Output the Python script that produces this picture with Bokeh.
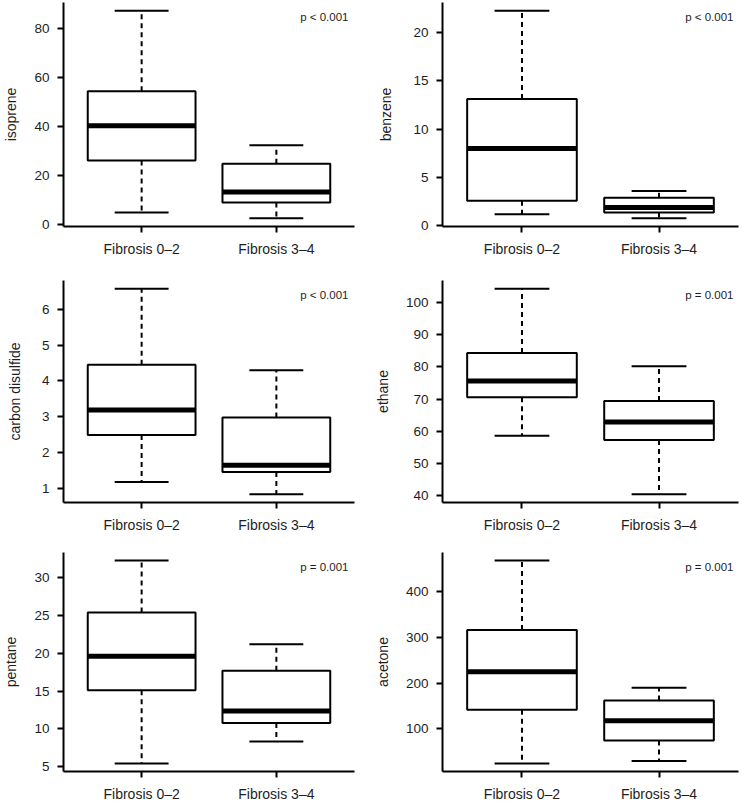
from bokeh.plotting import figure
from bokeh.models import FactorRange, Range1d, FixedTicker, Label, ColumnDataSource
from bokeh.layouts import gridplot
from bokeh.embed import file_html
from bokeh.resources import INLINE

# ---- data (lower whisker, Q1, median, Q3, upper whisker) ----
groups = ["Fibrosis 0–2", "Fibrosis 3–4"]

isoprene_f02 = [4.9, 26.2, 40.4, 54.4, 87.3]
isoprene_f34 = [2.6, 9.0, 13.3, 24.8, 32.4]
benzene_f02 = [1.2, 2.6, 8.0, 13.1, 22.2]
benzene_f34 = [0.8, 1.4, 1.9, 2.9, 3.6]
cs2_f02 = [1.17, 2.49, 3.19, 4.45, 6.58]
cs2_f34 = [0.83, 1.45, 1.64, 2.98, 4.30]
ethane_f02 = [58.6, 70.6, 75.6, 84.3, 104.3]
ethane_f34 = [40.4, 57.3, 62.9, 69.4, 80.2]
pentane_f02 = [5.4, 15.1, 19.6, 25.4, 32.3]
pentane_f34 = [8.3, 10.75, 12.35, 17.7, 21.2]
acetone_f02 = [25, 142, 225, 316, 467]
acetone_f34 = [30, 75, 118, 162, 190]

compounds = ["isoprene", "benzene", "carbon disulfide", "ethane", "pentane", "acetone"]
p_values = ["p < 0.001", "p < 0.001", "p < 0.001", "p = 0.001", "p = 0.001", "p = 0.001"]

isoprene_ticks = [0, 20, 40, 60, 80]
benzene_ticks = [0, 5, 10, 15, 20]
cs2_ticks = [1, 2, 3, 4, 5, 6]
ethane_ticks = [40, 50, 60, 70, 80, 90, 100]
pentane_ticks = [5, 10, 15, 20, 25, 30]
acetone_ticks = [100, 200, 300, 400]

FONT = "Liberation Sans"
TXT = "#1e1e1e"
PAD = 0.08


def panel(name, g1, g2, ticks, pval, width, height, left, right, top, bottom, maxdigits, pdx):
    src = ColumnDataSource(dict(
        cat=groups,
        lower=[g1[0], g2[0]], q1=[g1[1], g2[1]], med=[g1[2], g2[2]],
        q3=[g1[3], g2[3]], upper=[g1[4], g2[4]],
        cl=[(g, -0.2) for g in groups], cr=[(g, 0.2) for g in groups],
        ml=[(g, -0.4) for g in groups], mr=[(g, 0.4) for g in groups],
    ))
    lo = min(g1[0], g2[0])
    hi = max(g1[4], g2[4])
    span = hi - lo
    p = figure(width=width, height=height,
               x_range=FactorRange(factors=groups, range_padding=PAD, range_padding_units="absolute"),
               y_range=Range1d(lo - 0.04 * span, hi + 0.04 * span),
               output_backend="svg", toolbar_location=None,
               min_border_left=left, min_border_right=right,
               min_border_top=top, min_border_bottom=bottom)
    p.xgrid.visible = False
    p.ygrid.visible = False
    p.outline_line_color = None
    p.background_fill_color = "white"

    # whiskers (dashed)
    p.segment(x0="cat", y0="q3", x1="cat", y1="upper", source=src,
              line_color="black", line_width=2, line_dash="5 4")
    p.segment(x0="cat", y0="q1", x1="cat", y1="lower", source=src,
              line_color="black", line_width=2, line_dash="5 4")
    # caps
    p.segment(x0="cl", y0="upper", x1="cr", y1="upper", source=src,
              line_color="black", line_width=2)
    p.segment(x0="cl", y0="lower", x1="cr", y1="lower", source=src,
              line_color="black", line_width=2)
    # boxes
    p.vbar(x="cat", width=0.8, bottom="q1", top="q3", source=src,
           fill_color="white", line_color="black", line_width=2)
    # medians
    p.segment(x0="ml", y0="med", x1="mr", y1="med", source=src,
              line_color="black", line_width=5, line_cap="butt")

    p.yaxis.ticker = FixedTicker(ticks=ticks, minor_ticks=[])
    p.yaxis.axis_label = name
    ndig = max(len(str(t)) for t in ticks)
    p.yaxis.axis_label_standoff = 12 + int(round((maxdigits - ndig) * 4))
    p.yaxis.axis_label_text_font = FONT
    p.yaxis.axis_label_text_font_size = "14px"
    p.yaxis.axis_label_text_font_style = "normal"
    p.yaxis.axis_label_text_color = TXT
    p.yaxis.major_label_standoff = 8
    p.xaxis.major_label_standoff = 8
    for ax in (p.xaxis, p.yaxis):
        ax.axis_line_width = 2
        ax.axis_line_color = "black"
        ax.major_tick_line_width = 2
        ax.major_tick_line_color = "black"
        ax.major_tick_out = 6
        ax.major_tick_in = 0
        ax.minor_tick_out = 0
        ax.minor_tick_in = 0
        ax.major_label_text_font = FONT
        ax.major_label_text_font_size = "13.5px"
        ax.major_label_text_color = TXT
    p.xaxis.major_label_text_font_size = "14px"

    p.add_layout(Label(x=len(groups) + PAD, y=hi + 0.04 * span, x_offset=pdx, y_offset=-14,
                       text=pval, text_align="right", text_baseline="middle",
                       text_font=FONT, text_font_size="11.5px", text_color=TXT))
    return p


W = 371
# (figure height, top border, bottom border) per row
rows_h = [(259, 2, 31), (276, 21, 32), (269, 17, 30)]
data = [
    ("isoprene", isoprene_f02, isoprene_f34, isoprene_ticks),
    ("benzene", benzene_f02, benzene_f34, benzene_ticks),
    ("carbon disulfide", cs2_f02, cs2_f34, cs2_ticks),
    ("ethane", ethane_f02, ethane_f34, ethane_ticks),
    ("pentane", pentane_f02, pentane_f34, pentane_ticks),
    ("acetone", acetone_f02, acetone_f34, acetone_ticks),
]
left_max = max(len(str(t)) for d in data[0::2] for t in d[3])
right_max = max(len(str(t)) for d in data[1::2] for t in d[3])

grid_rows = []
for r in range(3):
    h, top, bottom = rows_h[r]
    row = []
    for c in range(2):
        i = r * 2 + c
        name, g1, g2, ticks = data[i]
        if c == 0:
            p = panel(name, g1, g2, ticks, p_values[i], W, h, 57, 17, top, bottom, left_max, -6)
        else:
            p = panel(name, g1, g2, ticks, p_values[i], W, h, 69, 4, top, bottom, right_max, -5)
        row.append(p)
    grid_rows.append(row)

grid = gridplot(grid_rows, toolbar_location=None)

open("out.html", "w").write(file_html(grid, INLINE))
